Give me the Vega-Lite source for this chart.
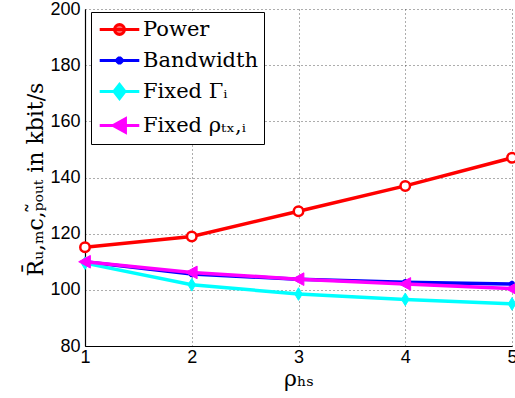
{
  "$schema": "https://vega.github.io/schema/vega-lite/v6.json",
  "autosize": "none",
  "width": 427,
  "height": 337,
  "padding": {"left": 85, "top": 9, "right": 3, "bottom": 52},
  "background": "white",
  "config": {
    "view": {"stroke": null},
    "axis": {
      "labelFont": "Liberation Sans",
      "labelFontSize": 18,
      "labelColor": "black",
      "domainColor": "black",
      "domainWidth": 1.2,
      "tickColor": "black",
      "tickSize": 0,
      "gridColor": "#333",
      "gridDash": [1, 3],
      "gridWidth": 1,
      "gridOpacity": 0.8,
      "titleFont": "DejaVu Serif",
      "titleFontWeight": "normal",
      "titleColor": "black",
      "titleFontSize": 22
    }
  },
  "data": {
    "values": [
      {"rho": 1, "series": "Power", "rate": 115.2},
      {"rho": 2, "series": "Power", "rate": 119},
      {"rho": 3, "series": "Power", "rate": 128},
      {"rho": 4, "series": "Power", "rate": 137},
      {"rho": 5, "series": "Power", "rate": 147},
      {"rho": 1, "series": "Bandwidth", "rate": 110},
      {"rho": 2, "series": "Bandwidth", "rate": 105.6},
      {"rho": 3, "series": "Bandwidth", "rate": 103.8},
      {"rho": 4, "series": "Bandwidth", "rate": 102.7},
      {"rho": 5, "series": "Bandwidth", "rate": 102.1},
      {"rho": 1, "series": "Fixed Γᵢ", "rate": 109.5},
      {"rho": 2, "series": "Fixed Γᵢ", "rate": 101.8},
      {"rho": 3, "series": "Fixed Γᵢ", "rate": 98.5},
      {"rho": 4, "series": "Fixed Γᵢ", "rate": 96.6},
      {"rho": 5, "series": "Fixed Γᵢ", "rate": 95},
      {"rho": 1, "series": "Fixed ρₜₓ,ᵢ", "rate": 110},
      {"rho": 2, "series": "Fixed ρₜₓ,ᵢ", "rate": 106.2},
      {"rho": 3, "series": "Fixed ρₜₓ,ᵢ", "rate": 103.8},
      {"rho": 4, "series": "Fixed ρₜₓ,ᵢ", "rate": 102.1},
      {"rho": 5, "series": "Fixed ρₜₓ,ᵢ", "rate": 100.4}
    ]
  },
  "encoding": {
    "x": {
      "field": "rho", "type": "quantitative",
      "scale": {"domain": [1, 5], "nice": false, "zero": false},
      "axis": {"values": [1, 2, 3, 4, 5], "format": "d", "labelPadding": 2, "title": "ρₕₛ", "titlePadding": 2, "labelFlush": false}
    },
    "y": {
      "field": "rate", "type": "quantitative",
      "scale": {"domain": [80, 200], "nice": false, "zero": false},
      "axis": {"values": [80, 100, 120, 140, 160, 180, 200], "labelPadding": 5, "title": "R̄ᵤ,ₘc,ₚ̃ₒᵤₜ in kbit/s", "titleX": -50, "titleY": 170, "titleAlign": "center", "titleBaseline": "middle", "titleAngle": -90, "labelFlush": false}
    }
  },
  "layer": [
    {
      "mark": {"type": "line", "strokeWidth": 3.5},
      "encoding": {
        "stroke": {
          "field": "series", "type": "nominal",
          "scale": {
            "domain": ["Power", "Bandwidth", "Fixed Γᵢ", "Fixed ρₜₓ,ᵢ"],
            "range": ["#ff0000", "#0000ff", "#00ffff", "#ff00ff"]
          },
          "legend": {
            "title": null,
            "orient": "none",
            "legendX": 6,
            "legendY": 3,
            "fillColor": "white",
            "strokeColor": "black",
            "padding": 5,
            "rowPadding": 7,
            "labelFont": "DejaVu Serif",
            "labelFontSize": 21,
            "labelColor": "black",
            "labelOffset": 11,
            "symbolSize": 484,
            "symbolStrokeWidth": 3,
            "symbolOffset": 11,
            "encode": {
              "symbols": {
                "update": {
                  "shape": {"signal": "datum.value === 'Power' ? 'M-1.8,0L1.8,0M-0.45,0A0.45,0.45 0 1,0 0.45,0A0.45,0.45 0 1,0 -0.45,0' : datum.value === 'Bandwidth' ? 'M-1.8,0L1.8,0M-0.36,0L0.36,0M0,-0.36L0,0.36M-0.25,-0.25L0.25,0.25M-0.25,0.25L0.25,-0.25' : datum.value === 'Fixed Γᵢ' ? 'M-1.8,0L1.8,0M-0.5,0L0,-0.65L0.5,0L0,0.65Z' : 'M-1.8,0L1.8,0M-0.58,0L0.54,-0.62L0.54,0.62Z'"},
                  "fill": {"signal": "datum.value === 'Power' ? '#ff6666' : datum.value === 'Bandwidth' ? 'transparent' : datum.value === 'Fixed Γᵢ' ? '#00ffff' : '#ff00ff'"},
                  "strokeWidth": {"value": 3}
                }
              }
            }
          }
        }
      }
    },
    {
      "transform": [{"filter": "datum.series === 'Power'"}],
      "mark": {"type": "point", "shape": "circle", "size": 90, "filled": false, "fill": "white", "fillOpacity": 1, "stroke": "#ff0000", "strokeWidth": 2.5, "opacity": 1}
    },
    {
      "transform": [{"filter": "datum.series === 'Bandwidth'"}],
      "mark": {"type": "point", "shape": "M-1,0L1,0M0,-1L0,1M-0.7,-0.7L0.7,0.7M-0.7,0.7L0.7,-0.7", "size": 40, "filled": false, "stroke": "#0000ff", "strokeWidth": 2, "opacity": 1}
    },
    {
      "transform": [{"filter": "datum.series === 'Fixed Γᵢ'"}],
      "mark": {"type": "point", "shape": "M-0.6,0L0,-1L0.6,0L0,1Z", "size": 160, "filled": true, "fill": "#00ffff", "stroke": "#00ffff", "strokeWidth": 1, "opacity": 1}
    },
    {
      "transform": [{"filter": "datum.series === 'Fixed ρₜₓ,ᵢ'"}],
      "mark": {"type": "point", "shape": "M-1,0L0.85,-1L0.85,1Z", "size": 160, "filled": true, "fill": "#ff00ff", "stroke": "#ff00ff", "strokeWidth": 1, "opacity": 1}
    }
  ]
}
